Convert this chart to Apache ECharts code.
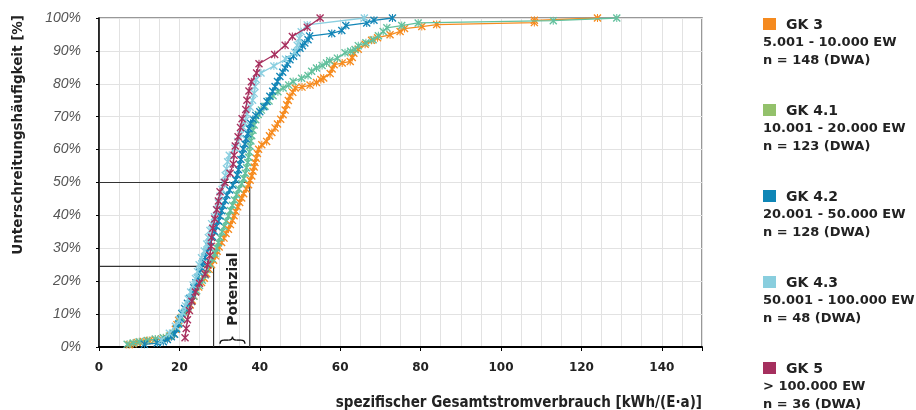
<!DOCTYPE html>
<html>
<head>
<meta charset="utf-8">
<script src="https://cdn.jsdelivr.net/npm/echarts/dist/echarts.min.js"></script>
<style>
  html, body { margin: 0; padding: 0; background: #fff; }
  #chart { width: 916px; height: 410px; }
</style>
</head>
<body>
<div id="chart"></div>
<script>
// [kWh/(E·a), Unterschreitungshäufigkeit %]
const gk3 = [
  [7.5, 0.7], [8.5, 1.0], [9.5, 1.4], [11.0, 1.7], [12.5, 2.0], [14.0, 2.2], [15.5, 2.4], [16.8, 2.7],
  [17.8, 3.4], [18.5, 4.1], [19.0, 5.4], [19.4, 6.8], [19.8, 8.1], [20.5, 9.0], [21.5, 10.1], [22.2, 11.5],
  [22.7, 12.8], [23.2, 14.2], [23.6, 15.5], [24.1, 16.9], [24.8, 18.2], [25.5, 19.6], [26.2, 20.9], [26.8, 22.3],
  [27.4, 23.6], [28.0, 25.0], [28.5, 26.4], [29.0, 27.7], [29.4, 29.1], [29.9, 30.4], [30.5, 31.8], [31.1, 33.1],
  [31.6, 34.5], [32.2, 35.8], [32.7, 37.2], [33.2, 38.5], [33.6, 39.9], [34.0, 41.2], [34.5, 42.6], [35.0, 43.9],
  [35.5, 45.3], [36.0, 46.6], [36.6, 48.0], [37.2, 49.3], [37.6, 50.7], [38.0, 52.0], [38.3, 53.4], [38.6, 54.7],
  [38.8, 56.1], [39.1, 57.4], [39.4, 58.8], [39.7, 60.1], [40.5, 61.5], [41.7, 62.5], [42.4, 64.2], [43.0, 65.2],
  [43.8, 66.6], [44.4, 67.8], [45.2, 69.2], [45.8, 70.6], [46.3, 72.0], [46.7, 73.6], [47.1, 74.9], [47.5, 76.2],
  [48.2, 77.4], [48.8, 78.7], [50.5, 79.0], [52.5, 79.6], [54.1, 80.4], [55.2, 81.3], [55.9, 81.8], [57.5, 83.1],
  [58.0, 84.5], [58.5, 85.8], [60.5, 86.3], [62.5, 86.8], [63.0, 88.0], [63.4, 89.3], [64.5, 90.5], [66.2, 92.0],
  [67.8, 93.2], [69.3, 94.0], [72.4, 94.9], [74.9, 95.9], [76.0, 96.8], [80.3, 97.4], [84.0, 98.0],
  [108.3, 98.6], [108.3, 99.3], [124.0, 100]
];
const gk41 = [
  [7.0, 0.8], [8.5, 1.2], [10.0, 1.6], [12.0, 2.0], [14.0, 2.4], [16.0, 2.8], [17.5, 3.3], [18.5, 4.1],
  [19.3, 5.7], [20.0, 7.3], [20.6, 8.9], [21.4, 10.6], [22.2, 12.2], [23.0, 13.8], [23.6, 15.4], [24.3, 17.1],
  [25.0, 18.7], [25.7, 20.3], [26.4, 21.9], [27.0, 23.6], [27.6, 25.2], [28.2, 26.8], [28.8, 28.5], [29.3, 30.1],
  [29.7, 31.7], [30.1, 33.3], [30.6, 35.0], [31.1, 36.6], [31.6, 38.2], [32.2, 39.8], [32.7, 41.5], [33.2, 43.1],
  [33.7, 44.7], [34.2, 46.3], [34.8, 48.0], [35.5, 49.6], [36.0, 51.2], [36.4, 52.8], [36.7, 54.5], [37.0, 56.1],
  [37.2, 57.7], [37.4, 59.3], [37.6, 61.0], [37.8, 62.6], [38.0, 64.2], [38.3, 65.9], [38.6, 67.5], [39.0, 69.1],
  [39.6, 70.7], [40.4, 72.0], [41.3, 73.2], [42.3, 74.8], [43.3, 76.4], [44.5, 77.6], [45.8, 78.7], [47.2, 79.6],
  [48.3, 80.7], [50.4, 81.7], [52.0, 82.5], [52.9, 83.8], [54.1, 84.8], [55.5, 85.6], [56.6, 86.3], [57.4, 87.0],
  [59.3, 87.8], [61.2, 89.4], [62.6, 89.9], [63.7, 90.4], [64.5, 91.6], [66.4, 92.5], [68.2, 93.4], [69.5, 94.6],
  [70.7, 95.9], [71.6, 97.0], [75.3, 97.7], [79.4, 98.5], [113.0, 99.2], [128.8, 100]
];
const gk42 = [
  [11.3, 0.8], [14.5, 1.2], [16.0, 1.6], [17.0, 2.3], [18.0, 3.1], [18.8, 3.9], [19.3, 5.5], [19.8, 7.0],
  [20.3, 8.6], [20.6, 10.2], [21.3, 11.7], [22.0, 13.3], [22.6, 14.8], [23.2, 16.4], [23.6, 18.0], [24.1, 19.5],
  [24.5, 21.1], [25.0, 22.7], [25.5, 24.2], [25.9, 25.8], [26.4, 27.3], [26.9, 28.9], [27.3, 30.5], [27.7, 32.0],
  [28.2, 33.6], [28.7, 35.2], [29.2, 36.7], [29.7, 38.3], [30.1, 39.8], [30.5, 41.4], [30.9, 43.0], [31.4, 44.5],
  [31.8, 46.1], [32.5, 47.7], [33.3, 49.2], [34.0, 50.8], [34.4, 52.3], [34.7, 53.9], [35.0, 55.5], [35.3, 57.0],
  [35.6, 58.6], [35.9, 60.2], [36.3, 61.7], [36.6, 63.3], [37.0, 64.8], [37.3, 66.4], [37.7, 68.0], [38.3, 69.2],
  [39.0, 70.4], [40.0, 71.5], [41.0, 73.0], [41.8, 74.6], [42.5, 76.2], [43.2, 77.7], [43.8, 79.2], [44.4, 80.7],
  [45.0, 82.2], [45.7, 83.5], [46.3, 84.8], [46.9, 86.0], [47.5, 87.3], [48.4, 88.4], [49.2, 89.4], [50.0, 90.8],
  [50.6, 91.6], [51.2, 92.4], [52.0, 93.4], [52.4, 94.5], [57.9, 95.3], [60.4, 96.2], [61.4, 97.7],
  [66.6, 98.5], [68.4, 99.3], [73.0, 100]
];
const gk43 = [
  [15.5, 2.1], [17.5, 4.2], [19.0, 6.3], [20.0, 8.3], [20.8, 10.4], [21.5, 12.5], [22.2, 14.6], [22.8, 16.7],
  [23.4, 18.8], [24.0, 20.8], [24.5, 22.9], [24.9, 25.0], [25.5, 27.1], [26.2, 29.2], [26.8, 31.3], [27.2, 33.3],
  [27.6, 35.4], [28.0, 37.5], [28.7, 39.6], [29.2, 41.7], [29.7, 43.8], [30.1, 45.8], [30.6, 47.9], [31.0, 50.0],
  [31.4, 52.1], [31.7, 54.2], [32.0, 56.3], [32.4, 58.3], [33.8, 60.4], [34.5, 62.5], [35.3, 64.6], [35.9, 66.7],
  [36.4, 68.8], [36.8, 70.8], [37.6, 72.9], [38.2, 75.0], [38.6, 77.1], [38.8, 79.2], [39.1, 81.3], [40.3, 83.3],
  [43.5, 85.4], [46.4, 87.5], [48.7, 89.6], [49.3, 91.7], [49.8, 93.8], [50.3, 95.8], [51.8, 97.9], [66.0, 100]
];
const gk5 = [
  [21.4, 2.8], [21.7, 5.6], [22.0, 8.3], [22.5, 11.1], [23.1, 13.9], [24.0, 16.7], [25.0, 19.4], [26.4, 22.2],
  [27.0, 25.0], [27.6, 27.8], [27.9, 30.6], [28.0, 33.3], [28.3, 36.1], [28.8, 38.9], [29.3, 41.7], [29.7, 44.4],
  [30.1, 47.2], [31.3, 50.0], [32.6, 52.8], [33.4, 55.6], [33.6, 58.3], [33.9, 61.1], [34.6, 63.9], [35.2, 66.7],
  [35.6, 69.4], [36.5, 72.2], [36.8, 75.0], [37.3, 77.8], [37.9, 80.6], [39.2, 83.3], [39.8, 86.1], [43.7, 88.9],
  [46.3, 91.7], [48.1, 94.4], [51.8, 97.2], [55.0, 100]
];
const medianLine = [[0, 50], [37.5, 50], [37.5, 0]];
const quartileLine = [[0, 24.5], [28.5, 24.5], [28.5, 0]];

const groupNames = ['GK 3', 'GK 4.1', 'GK 4.2', 'GK 4.3', 'GK 5'];
const groupSizes = ['5.001 - 10.000 EW', '10.001 - 20.000 EW', '20.001 - 50.000 EW', '50.001 - 100.000 EW', '> 100.000 EW'];
const groupCounts = ['n = 148 (DWA)', 'n = 123 (DWA)', 'n = 128 (DWA)', 'n = 48 (DWA)', 'n = 36 (DWA)'];
const lineColors = ['#F68B1F', '#63C19E', '#1386B7', '#8ACFE0', '#A8305F'];
const legendColors = ['#F58A1F', '#93C16B', '#0F86B6', '#89CEDE', '#A52F5E'];

const star = 'path://M0,1.2L1.2,0L10,8.8L8.8,10Z M8.8,0L10,1.2L1.2,10L0,8.8Z M4.35,0H5.65V10H4.35Z';
const bold = 'DejaVu Sans';

const chart = echarts.init(document.getElementById('chart'));

const curves = [gk3, gk41, gk42, gk43, gk5].map((data, i) => ({
  name: groupNames[i],
  type: 'line',
  data: data,
  symbol: star,
  symbolSize: 8,
  symbolKeepAspect: true,
  lineStyle: { color: lineColors[i], width: 1.3 },
  itemStyle: { color: lineColors[i] },
  z: 3 + i,
  emphasis: { disabled: true }
}));

const guide = (data) => ({
  type: 'line', data: data, symbol: 'none', silent: true, z: 2,
  lineStyle: { color: '#333', width: 1.2 }
});

chart.setOption({
  animation: false,
  grid: { left: 99, right: 214, top: 18, bottom: 63, show: true, borderColor: '#777', borderWidth: 1.5 },
  xAxis: [{
    type: 'value', min: 0, max: 150, interval: 5,
    axisLine: { show: false }, axisTick: { show: false }, axisLabel: { show: false },
    splitLine: { lineStyle: { color: '#e2e2e2' } }
  }, {
    type: 'value', min: 0, max: 150, interval: 20, position: 'bottom',
    axisLine: { onZero: false, lineStyle: { color: '#000', width: 2 } },
    axisTick: { length: 4, lineStyle: { color: '#000' } },
    splitLine: { show: false },
    axisLabel: {
      margin: 15, color: '#222', fontFamily: bold, fontWeight: 'bold', fontSize: 12,
      formatter: v => (v % 20 === 0 ? String(v) : '')
    }
  }],
  yAxis: {
    type: 'value', min: 0, max: 100, interval: 10,
    axisLine: { show: true, lineStyle: { color: '#000', width: 1.5 } },
    axisTick: { show: true, length: 3, lineStyle: { color: '#000' } },
    splitLine: { lineStyle: { color: '#e2e2e2' } },
    axisLabel: {
      margin: 18, color: '#555', fontFamily: 'Liberation Sans', fontStyle: 'italic', fontSize: 14,
      formatter: '{value}%'
    }
  },
  series: [guide(medianLine), guide(quartileLine)].concat(curves)
});

const px = (x, y) => chart.convertToPixel({ xAxisIndex: 0, yAxisIndex: 0 }, [x, y]);

const graphic = [];
groupNames.forEach((name, i) => {
  const top = 18 + i * 86;
  graphic.push(
    { type: 'rect', shape: { x: 763, y: top, width: 13, height: 12 }, style: { fill: legendColors[i] } },
    { type: 'text', x: 786, y: top + 7, style: { text: name, font: 'bold 14px ' + bold, fill: '#222', verticalAlign: 'middle' } },
    { type: 'text', x: 763, y: top + 25, style: { text: groupSizes[i], font: 'bold 13px ' + bold, fill: '#222', verticalAlign: 'middle' } },
    { type: 'text', x: 763, y: top + 43, style: { text: groupCounts[i], font: 'bold 13px ' + bold, fill: '#222', verticalAlign: 'middle' } }
  );
});

graphic.push({
  type: 'text', x: 18, y: 15, rotation: Math.PI / 2,
  style: { text: 'Unterschreitungshäufigkeit [%]', font: 'bold 13.5px ' + bold, fill: '#222', align: 'right', verticalAlign: 'middle' }
});
graphic.push({
  type: 'text', x: 702, y: 403,
  style: {
    text: 'spezifischer Gesamtstromverbrauch [kWh/(E·a)]',
    font: 'bold 15px "Liberation Sans Narrow", "DejaVu Sans Condensed", "Liberation Sans"',
    fill: '#222', align: 'right', verticalAlign: 'middle'
  }
});

const label = px(33.3, 17.6);
graphic.push({
  type: 'text', x: label[0], y: label[1], rotation: Math.PI / 2, z: 10,
  style: { text: 'Potenzial', font: 'bold 14px ' + bold, fill: '#222', align: 'center', verticalAlign: 'middle' }
});

// brace under the label
const b1 = px(30.1, 1.0), bm = px(33.2, 2.1), b2 = px(36.3, 1.0), tip = px(33.2, 3.1);
const yb = bm[1];
const braceStyle = { fill: 'none', stroke: '#111', lineWidth: 1.4 };
const curve = (x1, y1, cx, cy, x2, y2) => ({
  type: 'bezierCurve', z: 10, shape: { x1, y1, cpx1: cx, cpy1: cy, x2, y2 }, style: braceStyle
});
const seg = (x1, y1, x2, y2) => ({ type: 'line', z: 10, shape: { x1, y1, x2, y2 }, style: braceStyle });
graphic.push(
  curve(b1[0], b1[1], b1[0], yb, b1[0] + 4, yb),
  seg(b1[0] + 4, yb, bm[0] - 4, yb),
  curve(bm[0] - 4, yb, bm[0], yb, tip[0], tip[1]),
  curve(tip[0], tip[1], bm[0], yb, bm[0] + 4, yb),
  seg(bm[0] + 4, yb, b2[0] - 4, yb),
  curve(b2[0] - 4, yb, b2[0], yb, b2[0], b2[1])
);

chart.setOption({ graphic: graphic });
</script>
</body>
</html>
